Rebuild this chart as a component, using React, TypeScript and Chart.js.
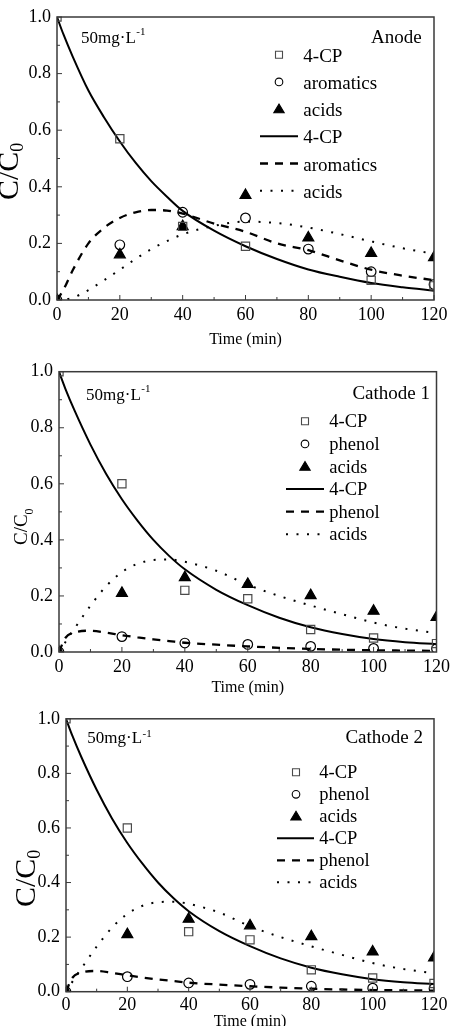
import { useEffect, useRef } from "react";
import { Chart, registerables } from "chart.js";

Chart.register(...registerables);

const SERIF = "'Liberation Serif', 'Times New Roman', Times, serif";
const PAGE_W = 454;
const PAGE_H = 1026;

// Sampling times of the measured concentrations (min)
const sampleTimes = [0, 20, 40, 60, 80, 100, 120];

// Anode: measured C/C0
const anode4cp = [1.0, 0.57, 0.26, 0.19, null, 0.07, 0.05];
const anodeAromatics = [0.0, 0.195, 0.31, 0.29, 0.18, 0.1, 0.055];
const anodeAcids = [0.0, 0.16, 0.26, 0.37, 0.22, 0.165, 0.15];

// Cathode: measured C/C0
const cathode4cp = [1.0, 0.6, 0.22, 0.19, 0.08, 0.05, 0.03];
const cathodePhenol = [0.0, 0.055, 0.032, 0.027, 0.02, 0.013, 0.012];
const cathodeAcids = [0.0, 0.21, 0.266, 0.242, 0.202, 0.146, 0.124];

// Times at which the kinetic-model curves are tabulated (min)
const fitTimes = [0, 2, 5, 10, 15, 20, 25, 30, 35, 40, 50, 60, 70, 80, 90, 100, 110, 120];

// Anode: model curves
const anodeFit4cp = [1.0, 0.94, 0.86, 0.74, 0.645, 0.56, 0.485, 0.42, 0.365, 0.315, 0.245, 0.19, 0.145, 0.108, 0.082, 0.06, 0.045, 0.033];
const anodeFitAromatics = [0.0, 0.035, 0.105, 0.2, 0.255, 0.29, 0.31, 0.318, 0.316, 0.305, 0.27, 0.241, 0.2, 0.176, 0.14, 0.107, 0.086, 0.07];
const anodeFitAcids = [0.0, 0.001, 0.008, 0.035, 0.07, 0.107, 0.145, 0.18, 0.208, 0.232, 0.262, 0.277, 0.272, 0.256, 0.233, 0.207, 0.183, 0.163];

// Cathode: model curves
const cathodeFit4cp = [1.0, 0.94, 0.86, 0.74, 0.635, 0.545, 0.468, 0.4, 0.343, 0.295, 0.222, 0.167, 0.122, 0.088, 0.064, 0.046, 0.035, 0.028];
const cathodeFitPhenol = [0.0, 0.05, 0.07, 0.076, 0.069, 0.06, 0.052, 0.045, 0.039, 0.033, 0.026, 0.02, 0.015, 0.011, 0.008, 0.006, 0.005, 0.004];
const cathodeFitAcids = [0.0, 0.035, 0.085, 0.165, 0.235, 0.285, 0.315, 0.328, 0.33, 0.322, 0.29, 0.24, 0.2, 0.166, 0.135, 0.105, 0.083, 0.068];

// Axis ticks
const xTickValues = [0, 20, 40, 60, 80, 100, 120];
const yTickValues = [0, 0.2, 0.4, 0.6, 0.8, 1.0];

// Series names
const anodeNames = ["4-CP", "aromatics", "acids"];
const cathodeNames = ["4-CP", "phenol", "acids"];

const concText = "50mg\u00b7L";
const concSup = "-1";

type Layout = {
  top: number;
  height: number;
  area: { left: number; right: number; top: number; bottom: number };
  xTickPad: number;
  xTitlePad: number;
  tag: { text: string; right: number; base: number; size: number };
  conc: { left: number; base: number; size: number; supBase: number; supSize: number };
  yTitle: { x: number; y: number; size: number; subSize: number; subShift: number };
  legend: { markerX: number; lineX0: number; lineX1: number; textX: number; base: number; pitch: number; markerLift: number; size: number };
};

type Panel = {
  measured: (number | null)[][];
  fits: number[][];
  names: string[];
  layout: Layout;
};

const panels: Panel[] = [
  {
    measured: [anode4cp, anodeAromatics, anodeAcids],
    fits: [anodeFit4cp, anodeFitAromatics, anodeFitAcids],
    names: anodeNames,
    layout: {
      top: 0,
      height: 352,
      area: { left: 57, right: 434, top: 17, bottom: 300 },
      xTickPad: 4,
      xTitlePad: 2.4,
      tag: { text: "Anode", right: 421.7, base: 42.7, size: 19 },
      conc: { left: 81, base: 43.3, size: 17, supBase: 35.4, supSize: 11 },
      yTitle: { x: 18, y: 200, size: 30, subSize: 18, subShift: 5 },
      legend: { markerX: 279, lineX0: 260, lineX1: 298, textX: 303.3, base: 61.7, pitch: 27.2, markerLift: 7, size: 19 },
    },
  },
  {
    measured: [cathode4cp, cathodePhenol, cathodeAcids],
    fits: [cathodeFit4cp, cathodeFitPhenol, cathodeFitAcids],
    names: cathodeNames,
    layout: {
      top: 352,
      height: 350,
      area: { left: 59, right: 439, top: 19.7, bottom: 300 },
      xTickPad: 4,
      xTitlePad: 4.2,
      tag: { text: "Cathode 1", right: 430, base: 47.3, size: 19 },
      conc: { left: 86, base: 48, size: 17, supBase: 40.4, supSize: 11 },
      yTitle: { x: 26.7, y: 193, size: 19, subSize: 12, subShift: 6 },
      legend: { markerX: 305, lineX0: 286, lineX1: 324, textX: 329.3, base: 75.3, pitch: 22.6, markerLift: 6, size: 18.5 },
    },
  },
  {
    measured: [cathode4cp, cathodePhenol, cathodeAcids],
    fits: [cathodeFit4cp, cathodeFitPhenol, cathodeFitAcids],
    names: cathodeNames,
    layout: {
      top: 702,
      height: 338,
      area: { left: 66, right: 434, top: 16.3, bottom: 289.7 },
      xTickPad: 2.5,
      xTitlePad: 9.1,
      tag: { text: "Cathode 2", right: 423, base: 41.3, size: 19 },
      conc: { left: 87.3, base: 41.3, size: 17, supBase: 35.4, supSize: 11 },
      yTitle: { x: 35, y: 205, size: 30, subSize: 18, subShift: 5 },
      legend: { markerX: 296, lineX0: 277, lineX1: 314, textX: 319.3, base: 76.3, pitch: 22, markerLift: 6, size: 18.5 },
    },
  },
];

const markerStyles = [
  { pointStyle: "rect", pointRadius: 5.8, color: "#4a4a4a", fill: false },
  { pointStyle: "circle", pointRadius: 4.8, color: "#000000", fill: false },
  { pointStyle: "triangle", pointRadius: 6.3, color: "#000000", fill: true },
];

const lineStyles = [
  { borderDash: [] as number[], borderWidth: 2 },
  { borderDash: [8, 7], borderWidth: 2.3 },
  { borderDash: [2, 8.5], borderWidth: 2 },
];

function drawLegendMarker(ctx: CanvasRenderingContext2D, style: string, x: number, y: number, color: string, filled: boolean) {
  ctx.save();
  ctx.setLineDash([]);
  ctx.lineWidth = 1.1;
  ctx.strokeStyle = color;
  ctx.fillStyle = color;
  ctx.beginPath();
  if (style === "rect") {
    ctx.rect(x - 3.5, y - 3.5, 7, 7);
  } else if (style === "circle") {
    ctx.arc(x, y, 3.8, 0, Math.PI * 2);
  } else {
    ctx.moveTo(x, y - 5);
    ctx.lineTo(x + 5.2, y + 3.7);
    ctx.lineTo(x - 5.2, y + 3.7);
    ctx.closePath();
  }
  if (filled) ctx.fill();
  ctx.stroke();
  ctx.restore();
}

function makeDecor(L: Layout) {
  return {
    id: "panelDecor",
    afterDraw(chart: any) {
      const { ctx, chartArea: a, scales } = chart;
      const x = scales.x;
      const y = scales.y;
      ctx.save();

      // frame
      ctx.strokeStyle = "#3a3a3a";
      ctx.lineWidth = 1.5;
      ctx.setLineDash([]);
      ctx.strokeRect(a.left, a.top, a.right - a.left, a.bottom - a.top);

      // inward major and minor ticks on the bottom and left axes
      ctx.lineWidth = 1;
      ctx.beginPath();
      const xt = x.ticks.map((t: any) => t.value);
      xt.forEach((v: number, i: number) => {
        const px = x.getPixelForValue(v);
        ctx.moveTo(px, a.bottom);
        ctx.lineTo(px, a.bottom - 5);
        if (i < xt.length - 1) {
          const mx = x.getPixelForValue((v + xt[i + 1]) / 2);
          ctx.moveTo(mx, a.bottom);
          ctx.lineTo(mx, a.bottom - 3);
        }
      });
      const yt = y.ticks.map((t: any) => t.value);
      yt.forEach((v: number, i: number) => {
        const py = y.getPixelForValue(v);
        ctx.moveTo(a.left, py);
        ctx.lineTo(a.left + 5, py);
        if (i < yt.length - 1) {
          const my = y.getPixelForValue((v + yt[i + 1]) / 2);
          ctx.moveTo(a.left, my);
          ctx.lineTo(a.left + 3, my);
        }
      });
      ctx.stroke();

      ctx.fillStyle = "#000";
      ctx.textBaseline = "alphabetic";

      // electrode tag
      ctx.font = `${L.tag.size}px ${SERIF}`;
      ctx.textAlign = "right";
      ctx.fillText(L.tag.text, L.tag.right, L.tag.base);

      // initial concentration
      ctx.textAlign = "left";
      ctx.font = `${L.conc.size}px ${SERIF}`;
      ctx.fillText(concText, L.conc.left, L.conc.base);
      const cw = ctx.measureText(concText).width;
      ctx.font = `${L.conc.supSize}px ${SERIF}`;
      ctx.fillText(concSup, L.conc.left + cw + 0.5, L.conc.supBase);

      // y-axis title C/C0
      ctx.save();
      ctx.translate(L.yTitle.x, L.yTitle.y);
      ctx.rotate(-Math.PI / 2);
      ctx.font = `${L.yTitle.size}px ${SERIF}`;
      ctx.fillText("C/C", 0, 0);
      const tw = ctx.measureText("C/C").width;
      ctx.font = `${L.yTitle.subSize}px ${SERIF}`;
      ctx.fillText("0", tw, L.yTitle.subShift);
      ctx.restore();

      // legend built from the datasets
      const lg = L.legend;
      chart.data.datasets.forEach((d: any, i: number) => {
        const base = lg.base + i * lg.pitch;
        const cy = base - lg.markerLift;
        if (d.showLine === false) {
          drawLegendMarker(ctx, d.pointStyle, lg.markerX, cy, d.borderColor, d.pointBackgroundColor !== "rgba(0,0,0,0)");
        } else {
          ctx.save();
          ctx.strokeStyle = d.borderColor;
          ctx.lineWidth = d.borderWidth;
          ctx.setLineDash(d.borderDash || []);
          ctx.beginPath();
          ctx.moveTo(lg.lineX0, cy);
          ctx.lineTo(lg.lineX1, cy);
          ctx.stroke();
          ctx.restore();
        }
        ctx.fillStyle = "#000";
        ctx.textAlign = "left";
        ctx.font = `${lg.size}px ${SERIF}`;
        ctx.fillText(d.label, lg.textX, base);
      });

      ctx.restore();
    },
  };
}

function PanelChart({ panel }: { panel: Panel }) {
  const ref = useRef<HTMLCanvasElement | null>(null);
  const L = panel.layout;

  useEffect(() => {
    if (!ref.current) return;
    const markerSets = panel.measured.map((vals, i) => {
      const s = markerStyles[i];
      return {
        label: panel.names[i],
        data: sampleTimes.map((t, k) => ({ x: t, y: vals[k] })),
        showLine: false,
        pointStyle: s.pointStyle,
        pointRadius: s.pointRadius,
        pointBorderWidth: 1.2,
        borderColor: s.color,
        pointBorderColor: s.color,
        pointBackgroundColor: s.fill ? s.color : "rgba(0,0,0,0)",
        backgroundColor: s.fill ? s.color : "rgba(0,0,0,0)",
      };
    });
    const lineSets = panel.fits.map((vals, i) => {
      const s = lineStyles[i];
      return {
        label: panel.names[i],
        data: fitTimes.map((t, k) => ({ x: t, y: vals[k] })),
        showLine: true,
        borderColor: "#000000",
        borderWidth: s.borderWidth,
        borderDash: s.borderDash,
        borderCapStyle: "butt",
        pointRadius: 0,
        fill: false,
        cubicInterpolationMode: "monotone",
      };
    });

    const chart = new Chart(ref.current, {
      type: "line",
      data: { datasets: [...markerSets, ...lineSets] as any },
      options: {
        animation: false,
        responsive: false,
        devicePixelRatio: 1,
        events: [],
        layout: { padding: { top: L.area.top, right: PAGE_W - L.area.right, left: 0, bottom: 0 } },
        plugins: { legend: { display: false }, tooltip: { enabled: false } },
        scales: {
          x: {
            type: "linear",
            min: 0,
            max: 120,
            afterBuildTicks: (s: any) => {
              s.ticks = xTickValues.map((v) => ({ value: v }));
            },
            afterFit: (s: any) => {
              s.height = L.height - L.area.bottom;
            },
            grid: { display: false, drawTicks: false },
            border: { display: false },
            ticks: {
              color: "#000",
              font: { family: SERIF, size: 18 },
              padding: L.xTickPad,
              maxRotation: 0,
              autoSkip: false,
              callback: (v: any) => String(v),
            },
            title: {
              display: true,
              text: "Time (min)",
              color: "#000",
              font: { family: SERIF, size: 16 },
              padding: { top: 0, bottom: L.xTitlePad },
            },
          },
          y: {
            type: "linear",
            min: 0,
            max: 1,
            afterBuildTicks: (s: any) => {
              s.ticks = yTickValues.map((v) => ({ value: v }));
            },
            afterFit: (s: any) => {
              s.width = L.area.left;
            },
            grid: { display: false, drawTicks: false },
            border: { display: false },
            ticks: {
              color: "#000",
              font: { family: SERIF, size: 18 },
              padding: 6,
              callback: (v: any) => Number(v).toFixed(1),
            },
          },
        },
      },
      plugins: [makeDecor(L)],
    } as any);
    return () => chart.destroy();
  }, [panel]);

  return (
    <canvas
      ref={ref}
      width={PAGE_W}
      height={L.height}
      style={{ position: "absolute", left: 0, top: L.top, width: PAGE_W, height: L.height }}
    />
  );
}

export default function App() {
  return (
    <div
      style={{
        position: "absolute",
        left: 0,
        top: 0,
        width: PAGE_W,
        height: PAGE_H,
        overflow: "hidden",
        background: "#fff",
      }}
    >
      {panels.map((p, i) => (
        <PanelChart key={i} panel={p} />
      ))}
    </div>
  );
}
